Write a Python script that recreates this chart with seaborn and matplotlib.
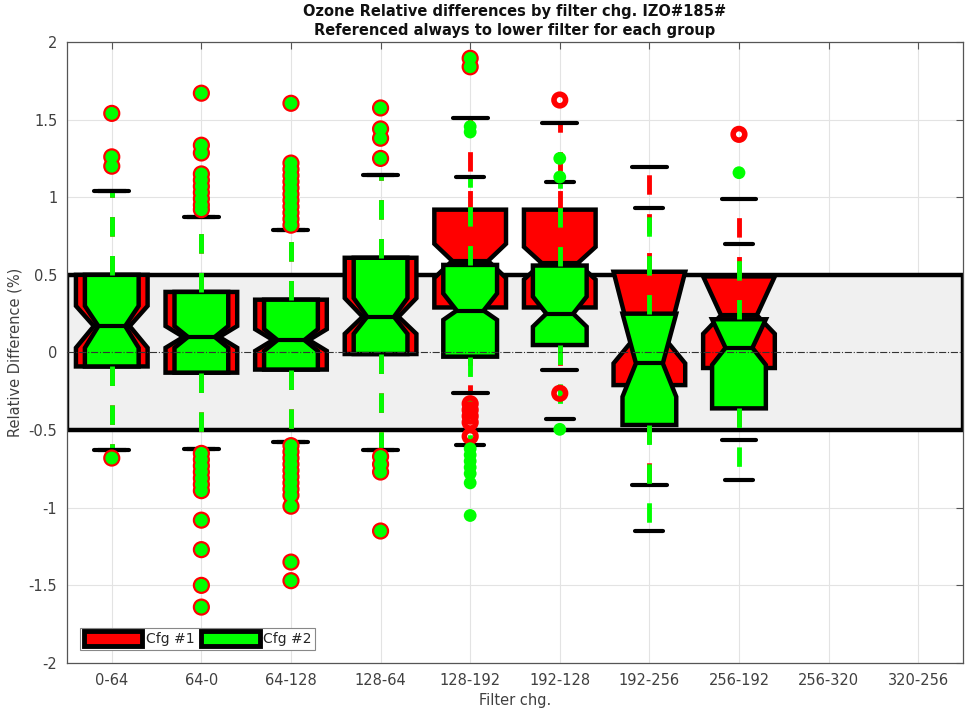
import numpy as np
import pandas as pd
import seaborn as sns
import matplotlib.pyplot as plt
from matplotlib.patches import Patch

groups = ['0-64', '64-0', '64-128', '128-64', '128-192', '192-128',
          '192-256', '256-192', '256-320', '320-256']

# Cfg #1 box stats (red), groups with data only
c1_q1 = [-0.09, -0.13, -0.11, -0.01, 0.29, 0.29, -0.21, -0.10]
c1_med = [0.17, 0.10, 0.08, 0.23, 0.59, 0.575, 0.07, 0.24]
c1_q3 = [0.50, 0.39, 0.34, 0.61, 0.92, 0.92, 0.52, 0.49]
c1_cilo = [0.03, 0.03, 0.01, 0.12, 0.48, 0.47, -0.07, 0.12]
c1_cihi = [0.30, 0.17, 0.15, 0.35, 0.70, 0.68, 0.52, 0.49]
c1_wlo = [-0.63, -0.62, -0.575, -0.63, -0.263, -0.113, -0.853, -0.564]
c1_whi = [1.04, 0.875, 0.79, 1.143, 1.508, 1.476, 1.197, 0.987]

# Cfg #2 box stats (green)
c2_q1 = [-0.09, -0.13, -0.11, -0.01, -0.027, 0.048, -0.467, -0.36]
c2_med = [0.17, 0.10, 0.08, 0.23, 0.27, 0.25, -0.07, 0.03]
c2_q3 = [0.50, 0.39, 0.34, 0.61, 0.564, 0.56, 0.25, 0.214]
c2_cilo = [0.03, 0.03, 0.01, 0.12, 0.21, 0.166, -0.285, -0.08]
c2_cihi = [0.30, 0.17, 0.15, 0.35, 0.38, 0.36, 0.25, 0.214]
c2_wlo = [-0.63, -0.62, -0.575, -0.63, -0.596, -0.43, -1.15, -0.82]
c2_whi = [1.04, 0.875, 0.79, 1.143, 1.13, 1.10, 0.929, 0.697]

# outliers
out_shared = [
    [1.54, 1.26, 1.20, -0.68],
    [1.67, 1.335, 1.285, 1.15, 1.11, 1.07, 1.03, 0.99, 0.95, 0.92,
     -0.65, -0.69, -0.73, -0.77, -0.81, -0.85, -0.89, -1.08, -1.27, -1.50, -1.64],
    [1.605, 1.22, 1.18, 1.14, 1.10, 1.06, 1.02, 0.98, 0.94, 0.90, 0.86, 0.82,
     -0.60, -0.64, -0.68, -0.72, -0.76, -0.80, -0.84, -0.88, -0.92, -0.99, -1.35, -1.47],
    [1.575, 1.44, 1.38, 1.25, -0.67, -0.72, -0.77, -1.15],
]
c1_out = out_shared + [
    [1.895, 1.84, -0.33, -0.37, -0.41, -0.45, -0.54],
    [1.626, -0.263],
    [],
    [1.405],
]
c2_out = out_shared + [
    [1.895, 1.84, 1.455, 1.42, -0.62, -0.66, -0.70, -0.74, -0.78, -0.84, -1.05],
    [1.25, 1.13, -0.495],
    [],
    [1.158],
]

yticks = [-2, -1.5, -1, -0.5, 0, 0.5, 1, 1.5, 2]
ytick_labels = ['-2', '-1.5', '-1', '-0.5', '0', '0.5', '1', '1.5', '2']

RED = '#ff0000'
GREEN = '#00ff00'

sns.set_theme(style='whitegrid')
plt.rcParams['font.family'] = ['DejaVu Sans']


def make_stats(q1, med, q3, cilo, cihi, wlo, whi):
    stats = []
    for i in range(len(q1)):
        stats.append(dict(q1=q1[i], med=med[i], q3=q3[i], cilo=cilo[i], cihi=cihi[i],
                          whislo=wlo[i], whishi=whi[i], fliers=[]))
    return stats


def outlier_frame(out):
    rows = []
    for i, vals in enumerate(out):
        for v in vals:
            rows.append((i, v))
    return pd.DataFrame(rows, columns=['pos', 'val'])


fig = plt.figure(figsize=(9.65, 7.09), dpi=100)
ax = fig.add_axes([0.0694, 0.0649, 0.9285, 0.8759])
ax.set_axisbelow(True)

# tolerance band
ax.axhspan(-0.5, 0.5, facecolor='#f0f0f0', edgecolor='black', linewidth=3.2, zorder=1)
ax.axhline(0, color='#333333', linestyle='-.', linewidth=0.8, zorder=9)

pos = np.arange(len(c1_q1))
ax.bxp(make_stats(c1_q1, c1_med, c1_q3, c1_cilo, c1_cihi, c1_wlo, c1_whi),
       positions=pos, widths=0.8, capwidths=0.39, shownotches=True,
       patch_artist=True, showfliers=False, zorder=3,
       boxprops=dict(facecolor=RED, edgecolor='black', linewidth=3.2),
       whiskerprops=dict(color=RED, linewidth=3.5, linestyle=(0, (4, 4))),
       capprops=dict(color='black', linewidth=3),
       medianprops=dict(color='black', linewidth=3))
ax.bxp(make_stats(c2_q1, c2_med, c2_q3, c2_cilo, c2_cihi, c2_wlo, c2_whi),
       positions=pos, widths=0.6, capwidths=0.31, shownotches=True,
       patch_artist=True, showfliers=False, zorder=5,
       boxprops=dict(facecolor=GREEN, edgecolor='black', linewidth=3.2),
       whiskerprops=dict(color=GREEN, linewidth=3.5, linestyle=(0, (4, 4))),
       capprops=dict(color='black', linewidth=3),
       medianprops=dict(color='black', linewidth=3))

df1 = outlier_frame(c1_out)
df2 = outlier_frame(c2_out)
sns.scatterplot(data=df1, x='pos', y='val', ax=ax, marker='o', s=70,
                facecolor='none', edgecolor=RED, linewidth=4, zorder=7, legend=False)
sns.scatterplot(data=df2, x='pos', y='val', ax=ax, marker='o', s=85,
                color=GREEN, edgecolor='none', linewidth=0, zorder=8, legend=False)

ax.set_xlim(-0.5, len(groups) - 0.5)
ax.set_ylim(-2, 2)
ax.set_xticks(np.arange(len(groups)))
ax.set_xticklabels(groups)
ax.set_yticks(yticks)
ax.set_yticklabels(ytick_labels)
ax.grid(True, color='#e3e3e3', linewidth=0.8)
ax.tick_params(direction='in', length=5, width=0.8, color='#555555',
               top=True, right=True, labelsize=10.5, labelcolor='#404040', pad=7)
for sp in ax.spines.values():
    sp.set_color('#555555')
    sp.set_linewidth(0.9)

ax.set_xlabel('Filter chg.', fontsize=10.5, color='#404040', labelpad=4)
ax.set_ylabel('Relative Difference (%)', fontsize=10.5, color='#404040', labelpad=4)
ax.set_title('Ozone Relative differences by filter chg. IZO#185#\n'
             'Referenced always to lower filter for each group',
             fontsize=10.5, fontweight='bold', color='#111111', pad=5, linespacing=1.3)

handles = [Patch(facecolor=RED, edgecolor='black', linewidth=3.5),
           Patch(facecolor=GREEN, edgecolor='black', linewidth=3.5)]
leg = ax.legend(handles, ['Cfg #1', 'Cfg #2'], loc='lower left', ncol=2,
                bbox_to_anchor=(0.015, 0.021), borderaxespad=0, fontsize=10,
                handlelength=4.2, handleheight=1.3, handletextpad=0.25,
                columnspacing=0.5, borderpad=0.25, fancybox=False, framealpha=1)
leg.get_frame().set_edgecolor('#888888')
leg.get_frame().set_linewidth(0.8)
leg.set_zorder(20)

fig.savefig('out.png', dpi=100)
